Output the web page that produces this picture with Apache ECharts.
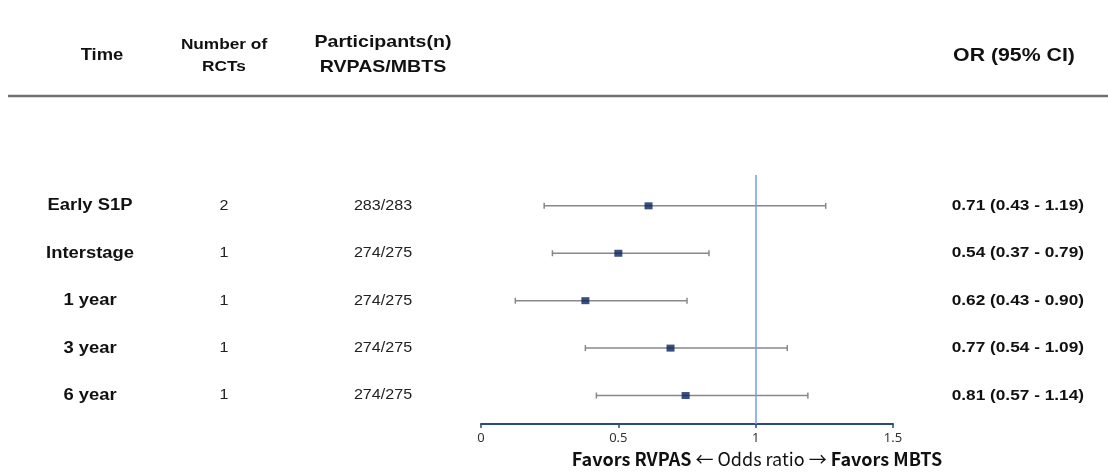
<!DOCTYPE html>
<html>
<head>
<meta charset="utf-8">
<script src="https://cdn.jsdelivr.net/npm/echarts@6/dist/echarts.min.js"></script>
<style>
  html, body { margin: 0; padding: 0; background: #ffffff; }
  #chart { width: 1108px; height: 472px; }
</style>
</head>
<body>
<div id="chart"></div>
<script>
// ---- data ----
const timeLabels = ['Early S1P', 'Interstage', '1 year', '3 year', '6 year'];
const rctCounts = [2, 1, 1, 1, 1];
const participants = ['283/283', '274/275', '274/275', '274/275', '274/275'];
const orLabels = ['0.71 (0.43 - 1.19)', '0.54 (0.37 - 0.79)', '0.62 (0.43 - 0.90)', '0.77 (0.54 - 1.09)', '0.81 (0.57 - 1.14)'];
// positions of marks as drawn in the plot
const plotOR = [0.61, 0.50, 0.38, 0.69, 0.745];
const plotLow = [0.23, 0.26, 0.125, 0.38, 0.42];
const plotHigh = [1.255, 0.83, 0.75, 1.115, 1.19];
const xTicks = ['0', '0.5', '1', '1.5'];
const headerCols = ['Time', 'Number of\nRCTs', 'Participants(n)\nRVPAS/MBTS', 'OR (95% CI)'];
const refLine = 1;

const SX = 1.15;
const FONT = '"Liberation Sans", Arial, sans-serif';
const KFONT = '"Noto Sans CJK KR", "Noto Sans", sans-serif';

function txt(x, y, text, size, weight, align, color) {
  return {
    type: 'text', x: x, y: y, scaleX: SX,
    style: {
      text: text, fontSize: size, fontWeight: weight, fontFamily: FONT,
      fill: color || '#111', align: align, textAlign: align,
      verticalAlign: 'middle', textVerticalAlign: 'middle', lineHeight: size * 1.45
    }
  };
}

const chart = echarts.init(document.getElementById('chart'), null, { renderer: 'canvas' });

const option = {
  animation: false,
  backgroundColor: '#ffffff',
  grid: { left: 481, width: 412, top: 175, height: 249, containLabel: false },
  xAxis: {
    type: 'value', min: 0, max: 1.5, interval: 0.5,
    axisLine: { show: true, onZero: false, lineStyle: { color: '#2c4a80', width: 2 } },
    axisTick: { show: true, length: 4, lineStyle: { color: '#2c4a80', width: 1.5 } },
    axisLabel: {
      margin: 8, fontSize: 13, color: '#333', fontFamily: '"Noto Sans", sans-serif',
      formatter: function (v) { const i = Math.round(v / 0.5); return xTicks[i] !== undefined ? xTicks[i] : String(v); }
    },
    splitLine: { show: false }
  },
  yAxis: {
    type: 'value', min: -0.65, max: 4.6, inverse: true, show: false,
    splitLine: { show: false }
  },
  graphic: [
    { type: 'line', shape: { x1: 8, y1: 96, x2: 1108, y2: 96 }, style: { stroke: '#707070', lineWidth: 2.5 } },
    txt(102, 56, headerCols[0], 16, 'bold', 'center'),
    txt(224, 56, headerCols[1], 15, 'bold', 'center'),
    txt(383, 55, headerCols[2], 17, 'bold', 'center'),
    txt(1014, 56, headerCols[3], 18.5, 'bold', 'center'),
    {
      type: 'text', x: 757, y: 459,
      style: {
        text: '{b|Favors RVPAS} \u2190 Odds ratio \u2192 {b|Favors MBTS}',
        rich: {
          b: { fontWeight: 'bold', fontSize: 18, fontFamily: KFONT, fill: '#111' }
        },
        fontSize: 18, fontFamily: KFONT, fill: '#111',
        align: 'center', textAlign: 'center', verticalAlign: 'middle', textVerticalAlign: 'middle'
      }
    }
  ],
  series: [
    {
      type: 'custom',
      name: 'ci',
      data: timeLabels.map(function (_, i) { return [plotLow[i], plotHigh[i], i]; }),
      encode: { x: [0, 1], y: 2 },
      renderItem: function (params, api) {
        const y = api.value(2);
        const a = api.coord([api.value(0), y]);
        const b = api.coord([api.value(1), y]);
        const st = { stroke: '#888888', lineWidth: 1.5 };
        return {
          type: 'group',
          children: [
            { type: 'line', shape: { x1: a[0], y1: a[1], x2: b[0], y2: b[1] }, style: st },
            { type: 'line', shape: { x1: a[0], y1: a[1] - 3, x2: a[0], y2: a[1] + 3 }, style: st },
            { type: 'line', shape: { x1: b[0], y1: b[1] - 3, x2: b[0], y2: b[1] + 3 }, style: st }
          ]
        };
      },
      z: 2
    },
    {
      type: 'scatter',
      name: 'or',
      data: timeLabels.map(function (_, i) { return [plotOR[i], i]; }),
      symbol: 'rect',
      symbolSize: [8, 7],
      itemStyle: { color: '#08235c' },
      z: 4,
      markLine: {
        silent: true,
        symbol: 'none',
        label: { show: false },
        lineStyle: { color: '#6f9fe6', width: 1.5, type: 'solid' },
        data: [{ xAxis: refLine }],
        z: 3
      }
    },
    {
      type: 'custom',
      name: 'rowtext',
      data: timeLabels.map(function (_, i) { return [0, i]; }),
      encode: { x: 0, y: 1 },
      clip: false,
      renderItem: function (params, api) {
        const i = params.dataIndex;
        const y = api.coord([0, api.value(1)])[1];
        return {
          type: 'group',
          children: [
            txt(90, y, timeLabels[i], 16, 'bold', 'center'),
            txt(224, y, String(rctCounts[i]), 14, 'normal', 'center', '#222'),
            txt(383, y, participants[i], 14, 'normal', 'center', '#222'),
            txt(1084, y, orLabels[i], 15, 'bold', 'right')
          ]
        };
      }
    }
  ]
};

chart.setOption(option);
</script>
</body>
</html>
